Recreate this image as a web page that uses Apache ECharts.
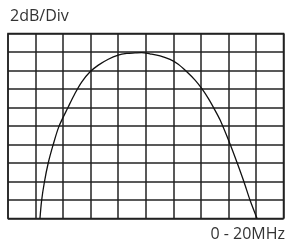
<!DOCTYPE html>
<html>
<head>
<meta charset="utf-8">
<script src="https://cdn.jsdelivr.net/npm/echarts@6/dist/echarts.min.js"></script>
<style>
  html, body { margin: 0; padding: 0; background: #fff; }
  #chart { width: 286px; height: 246px; }
</style>
</head>
<body>
<div id="chart"></div>
<script>
// response curve, in divisions (x: 0-10 div = 0-20MHz, y: 0-10 div at 2dB/div)
var freqDiv = [1.16, 1.22, 1.32, 1.46, 1.64, 1.85, 2.19, 2.43, 2.68, 2.98, 3.28, 3.64, 4.0, 4.31, 4.61, 4.85, 5.15, 5.52, 5.88, 6.18, 6.49, 6.79, 7.03, 7.27, 7.51, 7.70, 8.07, 8.32, 8.57, 8.79, 9.04];
var levelDiv = [0, 0.97, 1.96, 3.0, 3.99, 4.98, 6.04, 6.76, 7.39, 7.93, 8.29, 8.61, 8.83, 8.92, 8.95, 8.97, 8.9, 8.79, 8.6, 8.34, 7.93, 7.48, 7.03, 6.49, 5.86, 5.32, 3.99, 3.0, 1.96, 0.97, 0];
var scaleLabel = '2dB/Div';
var rangeLabel = '0 - 20MHz';

var chartDom = document.getElementById('chart');
var myChart = echarts.init(chartDom);
var option;

var points = freqDiv.map(function (f, i) { return [f, levelDiv[i]]; });
var gridColor = '#222';
var labelFont = 'normal 16px "Open Sans"';

option = {
  animation: false,
  graphic: [
    {
      type: 'text',
      left: 10,
      top: 8,
      style: { text: scaleLabel, font: labelFont, fill: '#333' }
    },
    {
      type: 'text',
      right: 1,
      top: 226,
      style: { text: rangeLabel, font: labelFont, fill: '#333' }
    }
  ],
  grid: {
    left: 8,
    right: 2.5,
    top: 33.5,
    bottom: 27.5,
    show: true,
    borderColor: gridColor,
    borderWidth: 1.5
  },
  xAxis: {
    type: 'value',
    min: 0,
    max: 10,
    interval: 1,
    axisLabel: { show: false },
    axisTick: { show: false },
    axisLine: { show: false },
    splitLine: { lineStyle: { color: gridColor, width: 1.5 } }
  },
  yAxis: {
    type: 'value',
    min: 0,
    max: 10,
    interval: 1,
    axisLabel: { show: false },
    axisTick: { show: false },
    axisLine: { show: false },
    splitLine: { lineStyle: { color: gridColor, width: 1.5 } }
  },
  series: [
    {
      type: 'line',
      data: points,
      smooth: 0.3,
      symbol: 'none',
      lineStyle: { color: '#111', width: 1.3 }
    }
  ]
};

option && myChart.setOption(option);
</script>
</body>
</html>
